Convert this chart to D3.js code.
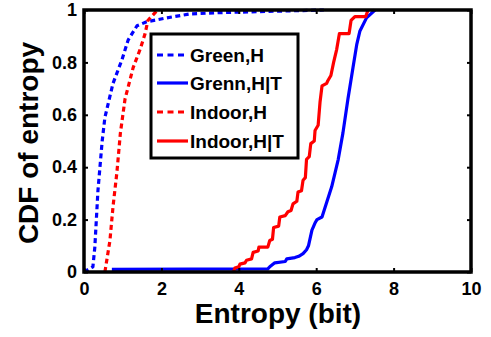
<!DOCTYPE html>
<html><head><meta charset="utf-8">
<script src="https://cdn.jsdelivr.net/npm/d3@7"></script>
<style>body{margin:0;background:#fff}svg{display:block}text{font-family:"Liberation Sans",Arial,sans-serif;font-weight:bold}</style>
</head><body>
<script>
const xTicks = [0, 2, 4, 6, 8, 10];
const yTicks = [0, 0.2, 0.4, 0.6, 0.8, 1];
const yTickLabels = ["0", "0.2", "0.4", "0.6", "0.8", "1"];
const seriesNames = ["Green,H", "Grenn,H|T", "Indoor,H", "Indoor,H|T"];
const seriesColors = ["#0000ff", "#0000ff", "#ff0000", "#ff0000"];
const seriesDashed = [true, false, true, false];

const greenH_x = [0, 0.23, 0.28, 0.36, 0.47, 0.54, 0.75, 0.98, 1.14, 1.37, 1.62, 2.14, 2.74, 3.5, 6.2];
const greenH_y = [0, 0.02, 0.095, 0.31, 0.5, 0.59, 0.72, 0.81, 0.885, 0.94, 0.955, 0.97, 0.985, 0.99, 1];

const indoorH_x = [0.54, 0.67, 0.75, 0.85, 0.94, 1.06, 1.27, 1.45, 1.58, 1.65, 1.9];
const indoorH_y = [0, 0.12, 0.25, 0.38, 0.53, 0.66, 0.78, 0.85, 0.91, 0.96, 1];

const greenHT_x = [0.72, 4.75, 4.8, 4.93, 5.2, 5.24, 5.45, 5.55, 5.66, 5.75, 5.8, 5.89, 5.98, 6.02, 6.15, 6.28, 6.4, 6.49, 6.57, 6.69, 6.82, 6.95, 7.05, 7.13, 7.3, 7.52];
const greenHT_y = [0.01, 0.012, 0.02, 0.035, 0.04, 0.05, 0.055, 0.06, 0.07, 0.085, 0.1, 0.16, 0.19, 0.2, 0.21, 0.27, 0.325, 0.38, 0.43, 0.53, 0.66, 0.78, 0.87, 0.92, 0.97, 1];

const indoorHT_x = [3.86, 3.9, 4.0, 4.03, 4.16, 4.2, 4.33, 4.37, 4.5, 4.52, 4.75, 4.8, 4.87, 4.9, 5.03, 5.06, 5.2, 5.27, 5.35, 5.4, 5.5, 5.53, 5.62, 5.66, 5.72, 5.75, 5.82, 5.86, 5.95, 5.97, 6.05, 6.1, 6.15, 6.27, 6.3, 6.38, 6.45, 6.53, 6.6, 6.85, 6.9, 7.0, 7.28, 7.34];
const indoorHT_y = [0, 0.015, 0.02, 0.03, 0.035, 0.045, 0.05, 0.075, 0.08, 0.095, 0.095, 0.12, 0.125, 0.17, 0.175, 0.21, 0.215, 0.23, 0.235, 0.26, 0.27, 0.305, 0.31, 0.35, 0.36, 0.43, 0.44, 0.49, 0.5, 0.54, 0.56, 0.65, 0.71, 0.72, 0.73, 0.75, 0.8, 0.85, 0.91, 0.91, 0.96, 0.975, 0.975, 1];

const W = 491, H = 337;
const svg = d3.select("body").append("svg").attr("width", W).attr("height", H);
const x = d3.scaleLinear().domain([0, 10]).range([84, 471]);
const y = d3.scaleLinear().domain([0, 1]).range([272, 10]);

const series = [
  {xs: greenH_x, ys: greenH_y},
  {xs: greenHT_x, ys: greenHT_y},
  {xs: indoorH_x, ys: indoorH_y},
  {xs: indoorHT_x, ys: indoorHT_y}
];
svg.append("clipPath").attr("id", "c").append("rect")
  .attr("x", 84).attr("y", 6).attr("width", 387).attr("height", 268);
const g = svg.append("g").attr("clip-path", "url(#c)");
series.forEach((s, i) => {
  const pts = s.xs.map((v, j) => [v, s.ys[j]]);
  const line = d3.line().x(d => x(d[0])).y(d => y(d[1]));
  g.append("path").attr("d", line(pts)).attr("fill", "none")
    .attr("stroke", seriesColors[i]).attr("stroke-width", 3.2)
    .attr("stroke-linejoin", "round")
    .attr("stroke-dasharray", seriesDashed[i] ? "5,3.5" : null);
});

svg.append("rect").attr("x", 84).attr("y", 10).attr("width", 387).attr("height", 262)
  .attr("fill", "none").attr("stroke", "#000").attr("stroke-width", 3.5);

const axB = d3.axisBottom(x).tickValues(xTicks).tickSize(-4).tickPadding(10).tickFormat(d3.format("d"));
const axT = d3.axisTop(x).tickValues(xTicks).tickSize(-4).tickFormat("");
const axL = d3.axisLeft(y).tickValues(yTicks).tickSize(-4).tickPadding(7).tickFormat((d, i) => yTickLabels[i]);
const axR = d3.axisRight(y).tickValues(yTicks).tickSize(-4).tickFormat("");
[[axB, "translate(0,272)"], [axT, "translate(0,10)"], [axL, "translate(84,0)"], [axR, "translate(471,0)"]].forEach(([a, t]) => {
  const gg = svg.append("g").attr("transform", t).call(a);
  gg.select(".domain").remove();
  gg.selectAll("line").attr("stroke", "#000").attr("stroke-width", 2);
  gg.selectAll("text").attr("fill", "#000").style("font-size", "18px").style("font-family", "Liberation Sans, Arial, sans-serif").style("font-weight", "bold");
});

svg.append("text").attr("x", 278).attr("y", 323).attr("text-anchor", "middle")
  .style("font-size", "28px").text("Entropy (bit)");
svg.append("text").attr("transform", "translate(38,143) rotate(-90)").attr("text-anchor", "middle")
  .style("font-size", "28px").text("CDF of entropy");

const lg = svg.append("g");
lg.append("rect").attr("x", 151).attr("y", 34).attr("width", 147).attr("height", 124)
  .attr("fill", "#fff").attr("stroke", "#000").attr("stroke-width", 3);
const rowY = [55, 83, 112, 141];
seriesNames.forEach((n, i) => {
  lg.append("line").attr("x1", 157).attr("x2", 188).attr("y1", rowY[i]).attr("y2", rowY[i])
    .attr("stroke", seriesColors[i]).attr("stroke-width", 3.2)
    .attr("stroke-dasharray", seriesDashed[i] ? "6,4.5" : null);
  lg.append("text").attr("x", 190).attr("y", rowY[i] + 7).style("font-size", "19px").text(n);
});
</script>
</body></html>
